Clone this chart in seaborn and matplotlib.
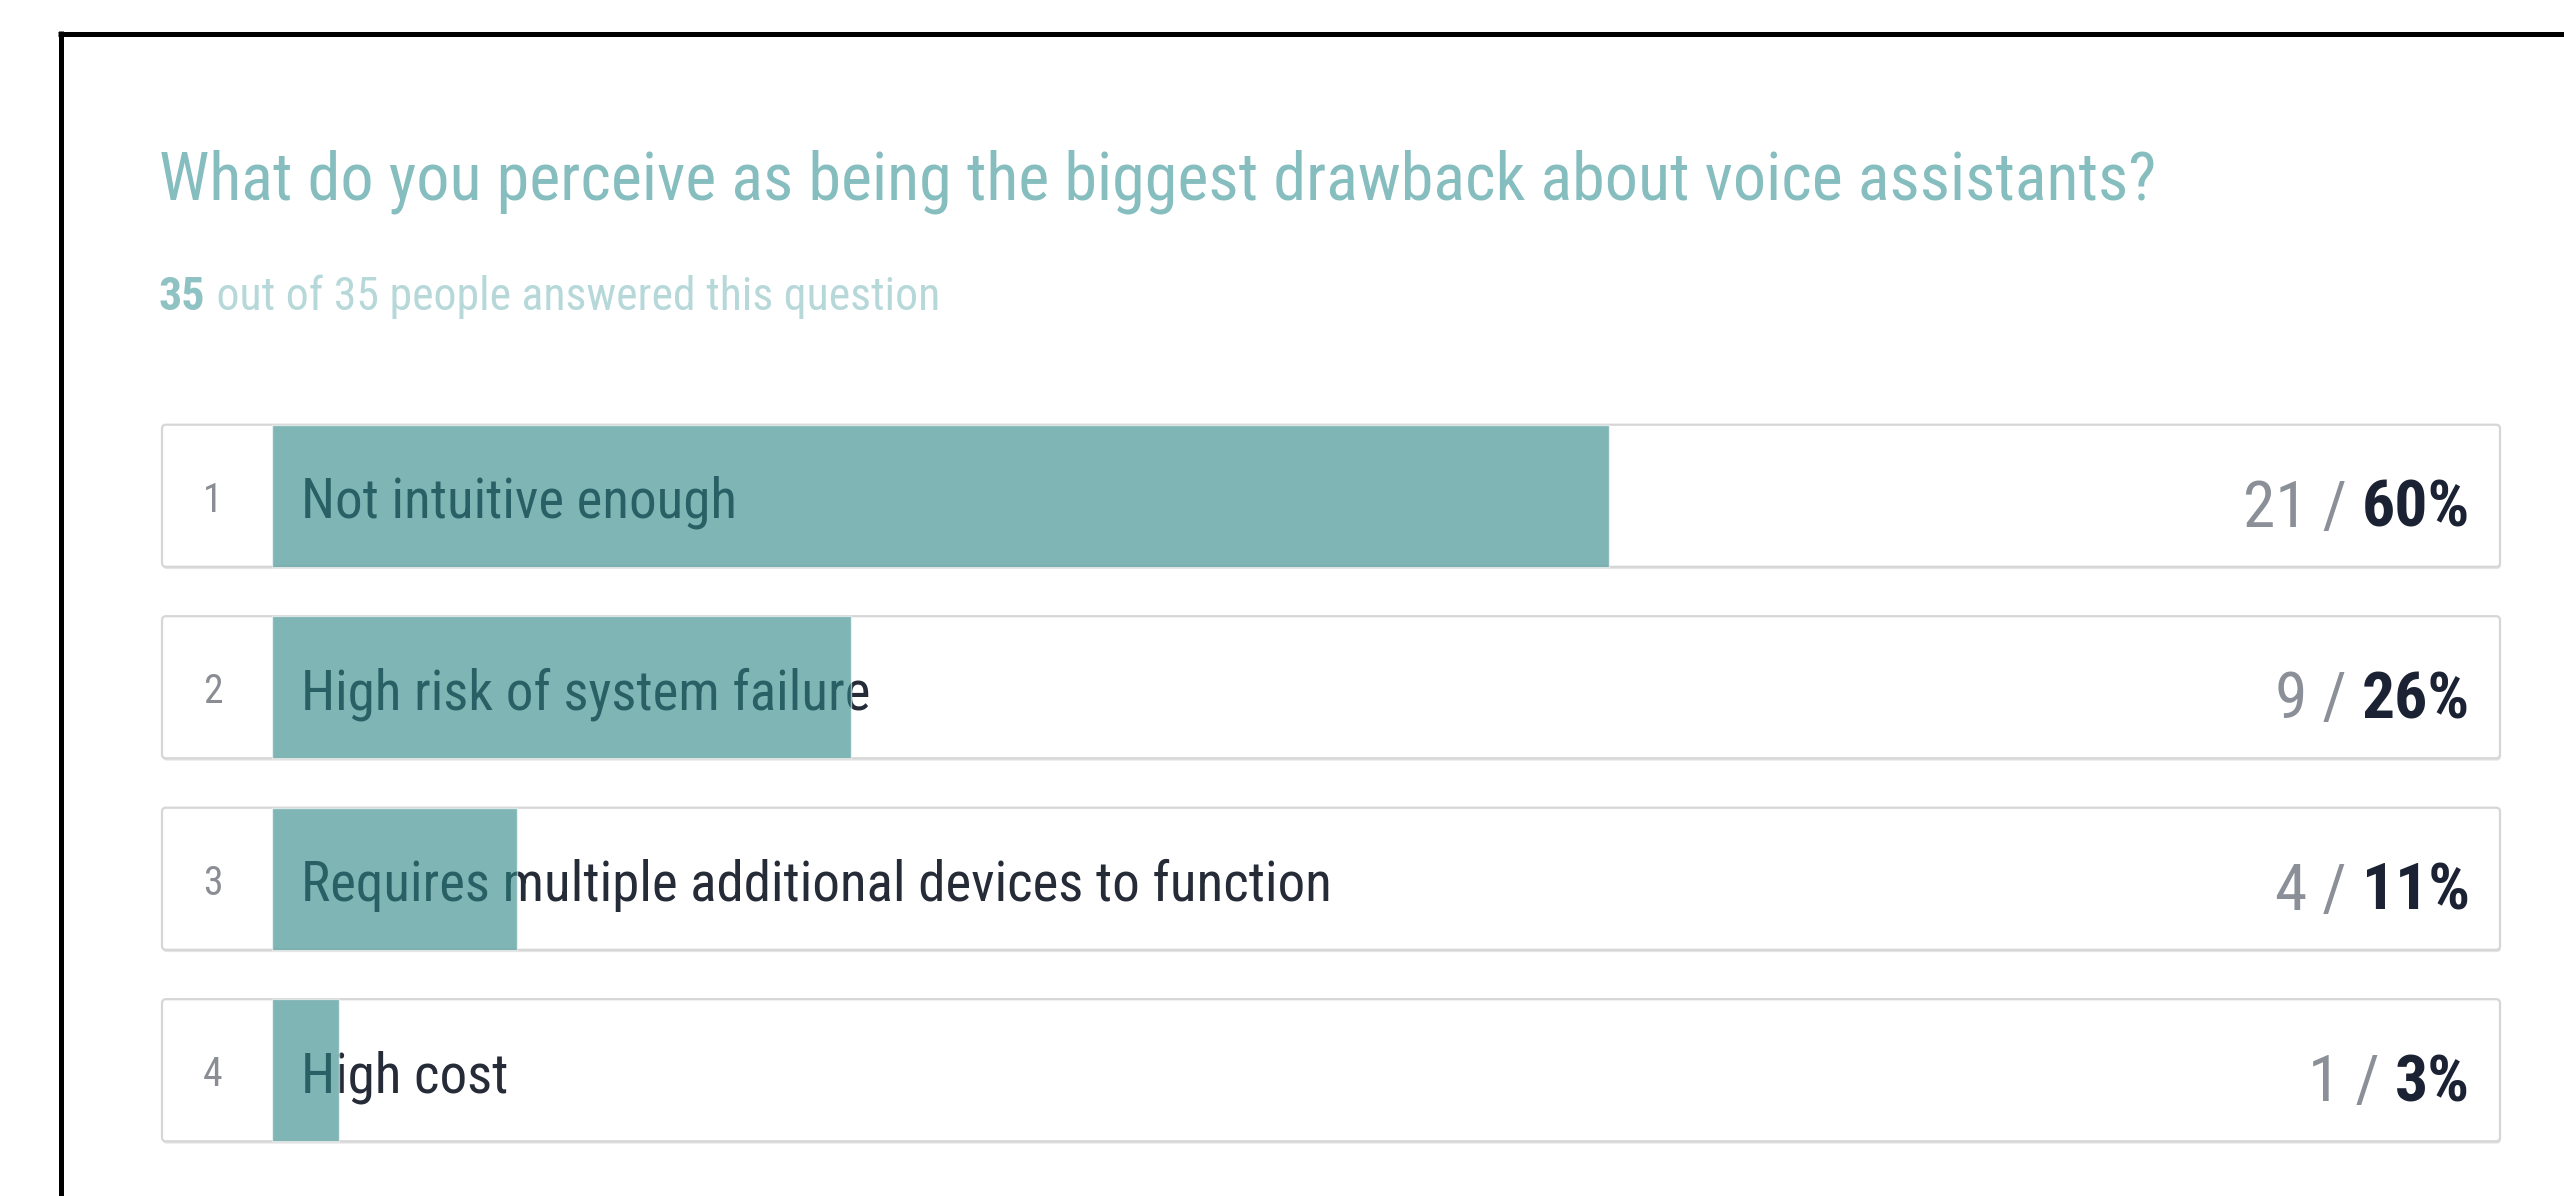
import matplotlib
matplotlib.use("Agg")
import matplotlib.pyplot as plt
from matplotlib import font_manager
from matplotlib.patches import FancyBboxPatch
from matplotlib.lines import Line2D
import seaborn as sns
import pandas as pd

# Survey results
ranks = [1, 2, 3, 4]
answers = [
    "Not intuitive enough",
    "High risk of system failure",
    "Requires multiple additional devices to function",
    "High cost",
]
counts = [21, 9, 4, 1]
percents = [60, 26, 11, 3]
respondents = 35
total = 35
question = "What do you perceive as being the biggest drawback about voice assistants?"

df = pd.DataFrame({"answer": answers, "percent": percents})

sns.set_theme(style="white")
installed = {f.name for f in font_manager.fontManager.ttflist}
FAMILY = "Liberation Sans"
for cand in ["Liberation Sans Narrow", "Roboto Condensed", "Archivo Narrow",
             "PT Sans Narrow", "Asap Condensed"]:
    if cand in installed:
        FAMILY = cand
        break
plt.rcParams["font.family"] = [FAMILY, "DejaVu Sans"]

W, H = 2564, 1196
fig = plt.figure(figsize=(W / 100, H / 100), dpi=100)
fig.patch.set_facecolor("white")
renderer = fig.canvas.get_renderer()


def fit_size(parts, target_px, base=40):
    """Font size at which the text pieces together span target_px."""
    width = 0
    for s, wt in parts:
        t = fig.text(0, 0, s, fontsize=base, fontweight=wt)
        width += t.get_window_extent(renderer).width
        t.remove()
    return base * target_px / width


FS_TITLE = fit_size([(question, "normal")], 1999)
FS_SUB = fit_size([(str(respondents), "bold"),
                   (f" out of {total} people answered this question", "normal")], 781)
FS_LABEL = fit_size([(answers[0], "normal")], 437)
FS_VALUE = fit_size([(f"{counts[0]} / ", "normal"), (f"{percents[0]}%", "bold")], 227)
FS_RANK = FS_LABEL * 0.72

# bar track: 0-100 % spans the answer rows
ax = fig.add_axes([272 / W, 1 - 1166 / H, (2500 - 272) / W, (1166 - 400) / H])
ax.set_xlim(0, 100)

BAR_H = 0.742
TEAL = "#2b8585"

# answer row boxes with a soft shadow
x0 = -110 / 22.28
asp = 22.28 / 191.3
for i in range(len(answers)):
    shadow = FancyBboxPatch((x0 + 0.04, i - BAR_H / 2 + 0.012), 100 - x0, BAR_H,
                            boxstyle="round,pad=0,rounding_size=0.18",
                            mutation_aspect=asp, facecolor="#e4e4e4",
                            edgecolor="none", zorder=0.5, clip_on=False)
    ax.add_patch(shadow)
    box = FancyBboxPatch((x0, i - BAR_H / 2), 100 - x0, BAR_H,
                         boxstyle="round,pad=0,rounding_size=0.18",
                         mutation_aspect=asp, facecolor="white",
                         edgecolor="#d6d6d6", linewidth=1.6, zorder=1,
                         clip_on=False)
    ax.add_patch(box)

# answer labels sit under the translucent bars
for i, (r, a) in enumerate(zip(ranks, answers)):
    ax.annotate(str(r), xy=(0, i), xytext=(-59, -16), textcoords="offset pixels",
                ha="center", va="baseline", fontsize=FS_RANK, color="#8a8d94",
                zorder=2, annotation_clip=False)
    ax.annotate(a, xy=(0, i), xytext=(29, -22), textcoords="offset pixels",
                ha="left", va="baseline", fontsize=FS_LABEL, color="#262b38",
                zorder=2, annotation_clip=False)

sns.barplot(data=df, x="percent", y="answer", orient="h", color=TEAL,
            alpha=0.6, saturation=1, width=BAR_H, ax=ax, zorder=3)
ax.set_xlim(0, 100)
ax.set_ylim(len(answers) - 0.5, -0.5)
ax.axis("off")

# count / percent on the right
for i, (c, p) in enumerate(zip(counts, percents)):
    pct = ax.annotate(f"{p}%", xy=(100, i), xytext=(-30, -31),
                      textcoords="offset pixels", ha="right", va="baseline",
                      fontsize=FS_VALUE, fontweight="bold", color="#1b2233",
                      zorder=4, annotation_clip=False)
    ax.annotate(f"{c} / ", xy=(0, 0), xycoords=pct, ha="right", va="bottom",
                fontsize=FS_VALUE, color="#8b8f97", zorder=4,
                annotation_clip=False)

# heading
fig.text(159 / W, 1 - 200 / H, question, ha="left", va="baseline",
         fontsize=FS_TITLE, color="#86bdbf")
sub = fig.text(159 / W, 1 - 310 / H, str(respondents), ha="left",
               va="baseline", fontsize=FS_SUB, fontweight="bold",
               color="#8ec2c3")
fig.text(0, 0, "", alpha=0)
plt.annotate(f" out of {total} people answered this question", xy=(1, 0),
             xycoords=sub, ha="left", va="bottom", fontsize=FS_SUB,
             color="#b7d8d9", annotation_clip=False)

# black frame (left and top edges)
fig.add_artist(Line2D([60.5 / W, 60.5 / W], [0, 1 - 31 / H], color="black",
                      linewidth=3.6, transform=fig.transFigure,
                      solid_capstyle="butt"))
fig.add_artist(Line2D([58 / W, 1], [1 - 33.5 / H, 1 - 33.5 / H],
                      color="black", linewidth=3.6, transform=fig.transFigure,
                      solid_capstyle="butt"))

fig.savefig("out.png", dpi=100, facecolor="white")
